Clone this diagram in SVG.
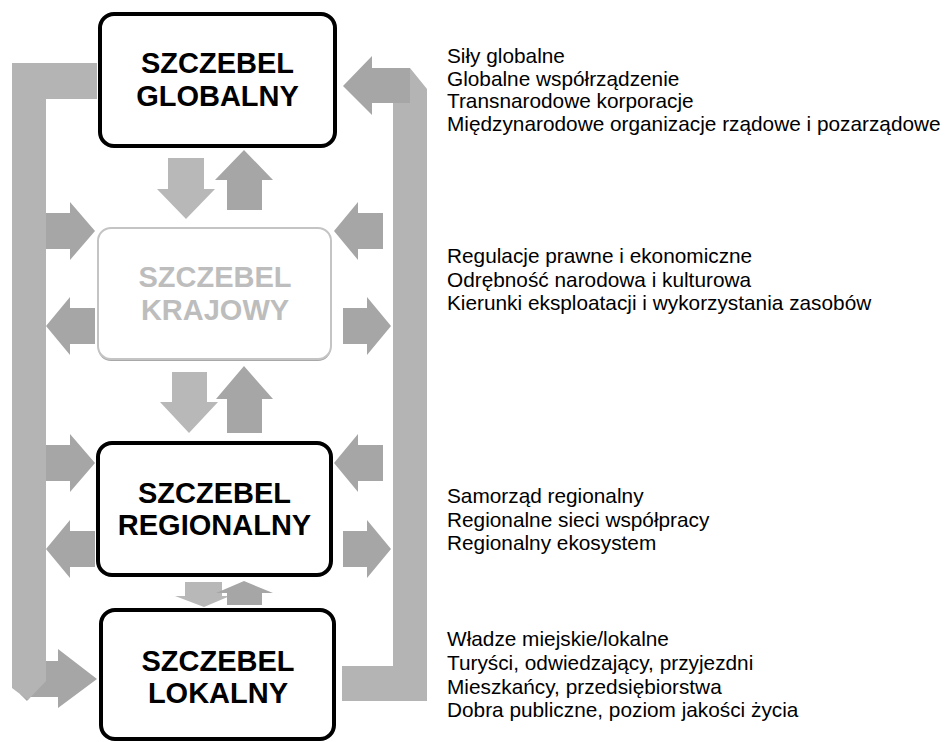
<svg xmlns="http://www.w3.org/2000/svg" width="945" height="742" viewBox="0 0 945 742">
  <style>
    .box { fill: #ffffff; stroke: #000000; stroke-width: 4; }
    .box-dim { fill: #ffffff; stroke: #c4c4c4; stroke-width: 2; }
    .shadow { fill: #a8a8a8; }
    .title { font-family: "Liberation Sans", Arial, sans-serif; font-weight: bold; font-size: 29px; text-anchor: middle; fill: #000000; }
    .title-dim { fill: #bdbdbd; }
    .note { font-family: "Liberation Sans", Arial, sans-serif; font-size: 20.8px; fill: #000000; }
    .bar { fill: #b4b4b4; }
    .arrow { fill: #a6a6a6; }
    .arrow-light { fill: #b8b8b8; }
  </style>

  <!-- connectors: side brackets and block arrows -->
  <g id="connectors">
    <!-- outer return loop, left side (global -> local) -->
    <polygon class="arrow" points="20,661 58,661 58,649 97,679 58,708 58,697 30,697 27,701 20,694"/>
    <polygon class="bar" points="12,63 97,63 97,99 46,99 46,681 28,700 12,688"/>
    <!-- outer return loop, right side (local -> global) -->
    <polygon class="bar" points="393,68 410,68 427,89 427,701 342,701 342,666 393,666"/>
    <polygon class="arrow" points="343,86 372,56 372,68 410,68 410,103 372,103 372,115"/>

    <!-- global <-> national -->
    <polygon class="arrow-light" points="168,158 204,158 204,189 215,189 186,219 157,189 168,189"/>
    <polygon class="arrow" points="244,150 273,180 262,180 262,210 227,210 227,180 215,180"/>
    <!-- national <-> regional -->
    <polygon class="arrow-light" points="172,372 207,372 207,402 218,402 189,433 160,402 172,402"/>
    <polygon class="arrow" points="244,366 273,399 262,399 262,433 227,433 227,399 216,399"/>
    <!-- regional <-> local -->
    <polygon class="arrow-light" points="185,582 222,582 222,596 230,596 204,607 175,596 185,596"/>
    <polygon class="arrow" points="244,581 273,593 262,593 262,605 227,605 227,593 216,593"/>

    <!-- national level side arrows -->
    <polygon class="arrow" points="46,213 70,213 70,202 95,231 70,260 70,249 46,249"/>
    <polygon class="arrow" points="46,326 70,297 70,308 95,308 95,344 70,344 70,355"/>
    <polygon class="arrow" points="334,231 358,202 358,213 383,213 383,249 358,249 358,260"/>
    <polygon class="arrow" points="343,308 367,308 367,297 391,326 367,355 367,344 343,344"/>
    <!-- regional level side arrows -->
    <polygon class="arrow" points="46,445 70,445 70,434 95,463 70,492 70,481 46,481"/>
    <polygon class="arrow" points="46,549 70,520 70,531 95,531 95,567 70,567 70,578"/>
    <polygon class="arrow" points="334,463 358,434 358,445 383,445 383,481 358,481 358,492"/>
    <polygon class="arrow" points="343,531 367,531 367,520 391,549 367,578 367,567 343,567"/>
  </g>

  <!-- level boxes -->
  <g id="global">
    <rect class="box" x="100" y="14" width="235" height="132" rx="14"/>
    <text class="title" x="217.5" y="73">SZCZEBEL</text>
    <text class="title" x="217.5" y="106">GLOBALNY</text>
  </g>

  <g id="national">
    <rect class="shadow" x="98" y="230" width="233" height="131" rx="13"/>
    <rect class="box-dim" x="98" y="228" width="233" height="131" rx="13"/>
    <text class="title title-dim" x="215" y="287">SZCZEBEL</text>
    <text class="title title-dim" x="215" y="320">KRAJOWY</text>
  </g>

  <g id="regional">
    <rect class="box" x="98" y="443" width="233" height="132" rx="14"/>
    <text class="title" x="214.5" y="503">SZCZEBEL</text>
    <text class="title" x="214.5" y="535">REGIONALNY</text>
  </g>

  <g id="local">
    <rect class="box" x="101" y="610" width="233" height="129" rx="14"/>
    <text class="title" x="218" y="671">SZCZEBEL</text>
    <text class="title" x="218" y="703">LOKALNY</text>
  </g>

  <!-- descriptions for each level -->
  <g id="global-notes" class="note">
    <text x="447" y="63">Siły globalne</text>
    <text x="447" y="85.7">Globalne współrządzenie</text>
    <text x="447" y="108.4">Transnarodowe korporacje</text>
    <text x="447" y="131.1">Międzynarodowe organizacje rządowe i pozarządowe</text>
  </g>

  <g id="national-notes" class="note">
    <text x="447" y="263">Regulacje prawne i ekonomiczne</text>
    <text x="447" y="286.5">Odrębność narodowa i kulturowa</text>
    <text x="447" y="310">Kierunki eksploatacji i wykorzystania zasobów</text>
  </g>

  <g id="regional-notes" class="note">
    <text x="447" y="503">Samorząd regionalny</text>
    <text x="447" y="526.7">Regionalne sieci współpracy</text>
    <text x="447" y="550.4">Regionalny ekosystem</text>
  </g>

  <g id="local-notes" class="note">
    <text x="447" y="646">Władze miejskie/lokalne</text>
    <text x="447" y="669.8">Turyści, odwiedzający, przyjezdni</text>
    <text x="447" y="693.6">Mieszkańcy, przedsiębiorstwa</text>
    <text x="447" y="717.4">Dobra publiczne, poziom jakości życia</text>
  </g>
</svg>
